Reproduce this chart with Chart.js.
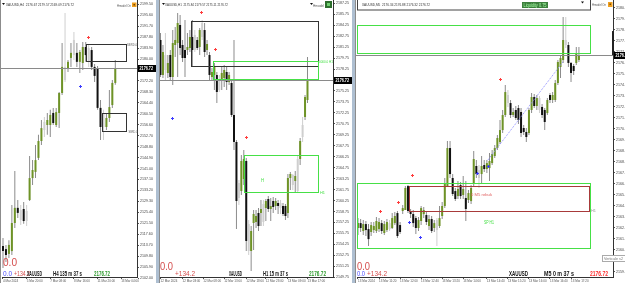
<!DOCTYPE html>
<html>
<head>
<meta charset="utf-8">
<script src="https://cdn.jsdelivr.net/npm/chart.js@4.4.1/dist/chart.umd.min.js"></script>
<style>
html, body { margin: 0; padding: 0; width: 625px; height: 283px; overflow: hidden; background: #aebfd1; }
.pane { position: absolute; top: 0; height: 283px; background: #fff; }
canvas { display: block; }
</style>
</head>
<body>
<div class="pane" style="left:0;width:156px"><canvas id="h4" width="156" height="283"></canvas></div>
<div class="pane" style="left:159px;width:193px"><canvas id="h1" width="193" height="283"></canvas></div>
<div class="pane" style="left:355px;width:270px"><canvas id="m5" width="270" height="283"></canvas></div>
<script>
// XAUUSD H4
const h4Open = [2113.4, 2112.3, 2110.6, 2111.6, 2121.6, 2127.0, 2126.2, 2126.6, 2122.3, 2129.8,
  2137.6, 2139.8, 2144.8, 2150.8, 2154.7, 2156.5, 2156.5, 2160.8, 2156.5, 2160.8,
  2167.9, 2177.2, 2176.8, 2180.4, 2181.4, 2182.2, 2179.0, 2178.6, 2184.3, 2183.9,
  2183.2, 2177.2, 2176.8, 2162.6, 2155.8, 2155.8, 2159.0, 2163.6, 2171.5];
const h4High = [2116.3, 2113.8, 2115.5, 2128.0, 2140.1, 2129.8, 2128.0, 2129.1, 2128.0, 2145.5,
  2144.0, 2149.4, 2153.0, 2158.3, 2159.4, 2160.8, 2161.9, 2162.6, 2162.6, 2168.3,
  2185.7, 2196.4, 2179.7, 2185.7, 2189.6, 2185.7, 2183.2, 2186.1, 2186.1, 2185.0,
  2184.3, 2178.2, 2177.5, 2165.4, 2161.9, 2160.8, 2169.0, 2172.5, 2179.7];
const h4Low = [2105.6, 2107.7, 2109.1, 2110.2, 2119.8, 2123.4, 2120.9, 2121.3, 2120.5, 2129.4,
  2135.1, 2137.6, 2144.0, 2149.4, 2152.2, 2153.0, 2152.2, 2156.5, 2155.8, 2155.4,
  2167.2, 2171.8, 2175.4, 2177.2, 2179.7, 2177.2, 2175.0, 2176.1, 2179.0, 2177.2,
  2176.1, 2171.8, 2161.9, 2151.2, 2151.2, 2154.7, 2157.6, 2162.6, 2170.8];
const h4Close = [2111.6, 2110.2, 2113.8, 2121.6, 2127.0, 2125.2, 2122.7, 2122.3, 2125.9, 2137.6,
  2140.5, 2144.0, 2150.8, 2155.4, 2157.6, 2158.3, 2160.1, 2157.2, 2161.1, 2167.9,
  2177.2, 2172.5, 2179.0, 2182.2, 2186.8, 2179.0, 2182.5, 2184.3, 2181.4, 2179.0,
  2177.2, 2174.0, 2162.6, 2155.8, 2160.8, 2159.0, 2162.9, 2171.5, 2176.72];
const h4Shade = [6, 8, 14, 21, 24, 29, 34];
const h4PriceTicks = [2199.50, 2195.60, 2191.70, 2187.80, 2183.90, 2180.00, 2176.10, 2172.20, 2168.30,
  2164.40, 2160.50, 2156.60, 2152.70, 2148.80, 2144.90, 2141.00, 2137.10, 2133.20, 2129.30,
  2125.40, 2121.50, 2117.60, 2113.70, 2109.80, 2105.90, 2102.00];
const h4TimeAt = [0, 8, 16, 24, 32, 40];
const h4TimeText = ['4 Mar 2024', '5 Mar 20:00', '7 Mar 08:00', '8 Mar 16:00', '11 Mar 20:00', '13 Mar 04:00'];

// XAUUSD H1
const h1Open = [2182.23, 2177.44, 2178.12, 2177.71, 2180.17, 2177.16, 2181.54, 2181.81, 2184.28, 2181.54,
  2180.86, 2180.86, 2181.13, 2182.64, 2180.86, 2182.23, 2181.27, 2182.64, 2183.59, 2180.86,
  2180.17, 2177.16, 2177.44, 2177.44, 2175.38, 2176.75, 2177.02, 2177.85, 2176.48, 2176.34,
  2171.96, 2168.27, 2160.60, 2161.56, 2163.20, 2165.67, 2153.35, 2153.35, 2157.18, 2157.32,
  2158.55, 2158.55, 2157.32, 2159.23, 2160.46, 2159.10, 2160.19, 2159.51, 2159.92, 2159.92,
  2159.51, 2159.51, 2158.55, 2163.34, 2162.38, 2162.93, 2161.56, 2165.94, 2168.95, 2171.69,
  2174.01];
const h1High = [2183.18, 2181.54, 2183.18, 2180.17, 2180.86, 2183.59, 2184.00, 2185.92, 2185.65, 2182.23,
  2184.96, 2183.18, 2183.59, 2184.96, 2183.59, 2182.64, 2183.87, 2184.96, 2184.55, 2182.23,
  2180.58, 2178.39, 2179.08, 2177.85, 2177.44, 2178.53, 2178.80, 2178.53, 2177.85, 2176.75,
  2182.23, 2168.54, 2163.07, 2166.49, 2167.17, 2166.08, 2157.59, 2156.77, 2158.96, 2158.96,
  2159.23, 2160.33, 2160.33, 2160.46, 2160.88, 2160.60, 2160.74, 2160.60, 2160.33, 2160.33,
  2159.92, 2159.78, 2163.89, 2164.16, 2163.89, 2164.30, 2166.49, 2168.81, 2171.69, 2174.70,
  2179.90];
const h1Low = [2177.16, 2177.02, 2176.75, 2177.02, 2176.75, 2176.07, 2179.90, 2177.16, 2180.17, 2179.21,
  2177.16, 2180.17, 2180.58, 2178.53, 2180.58, 2180.86, 2180.17, 2182.23, 2179.90, 2180.17,
  2176.75, 2176.75, 2175.38, 2173.60, 2175.11, 2175.38, 2175.79, 2175.38, 2176.07, 2171.69,
  2167.17, 2156.36, 2159.64, 2161.01, 2162.38, 2153.35, 2152.80, 2150.61, 2153.48, 2156.50,
  2156.09, 2156.77, 2156.77, 2157.45, 2158.69, 2157.45, 2158.55, 2158.96, 2158.41, 2158.41,
  2158.14, 2157.59, 2157.87, 2161.70, 2161.70, 2161.42, 2161.42, 2165.12, 2168.27, 2171.28,
  2173.60];
const h1Close = [2177.44, 2180.58, 2180.17, 2179.08, 2177.16, 2181.81, 2182.23, 2184.55, 2181.13, 2179.76,
  2179.76, 2181.27, 2182.64, 2180.86, 2182.91, 2181.13, 2183.59, 2184.55, 2180.58, 2181.68,
  2177.44, 2177.85, 2178.53, 2175.11, 2176.75, 2177.71, 2178.12, 2176.48, 2177.44, 2171.96,
  2168.27, 2160.19, 2162.65, 2165.67, 2165.94, 2154.72, 2157.04, 2156.09, 2158.41, 2158.14,
  2156.77, 2159.10, 2159.78, 2160.19, 2159.10, 2159.51, 2159.37, 2160.19, 2159.51, 2159.23,
  2158.41, 2158.14, 2163.34, 2163.89, 2163.75, 2163.61, 2165.94, 2168.40, 2170.59, 2174.42,
  2176.72];
const h1Shade = [2, 14, 17, 24, 32, 36, 42, 49, 54, 56, 58];
const h1PriceTicks = [2187.25, 2185.75, 2184.25, 2182.75, 2181.25, 2179.75, 2178.25, 2176.75, 2175.25,
  2173.75, 2172.25, 2170.75, 2169.25, 2167.75, 2166.25, 2164.75, 2163.25, 2161.75, 2160.25,
  2158.75, 2157.25, 2155.75, 2154.25, 2152.75, 2151.25, 2149.75];
const h1TimeAt = [0, 9, 17.5, 26, 35, 43, 52, 60];
const h1TimeText = ['12 Mar 2024', '12 Mar 03:00', '12 Mar 08:00', '12 Mar 13:00', '12 Mar 18:00',
  '12 Mar 23:00', '13 Mar 09:00', '13 Mar 17:00'];

// XAUUSD M5
const m5Open = [2162.57, 2162.97, 2162.32, 2162.89, 2162.48, 2162.24, 2162.40, 2162.32, 2162.48, 2162.97,
  2162.16, 2162.40, 2162.97, 2162.57, 2162.97, 2163.79, 2162.81, 2163.96, 2164.04, 2166.00,
  2163.96, 2163.71, 2163.38, 2162.57, 2163.14, 2163.71, 2163.63, 2162.73, 2163.30, 2162.57,
  2163.22, 2162.73, 2163.55, 2164.37, 2166.00, 2169.11, 2166.66, 2165.59, 2165.18, 2166.08,
  2165.27, 2165.02, 2164.86, 2164.77, 2166.25, 2167.64, 2167.31, 2166.98, 2167.72, 2167.39,
  2167.47, 2167.88, 2168.46, 2169.11, 2169.60, 2170.58, 2171.81, 2173.45, 2172.79, 2171.81,
  2172.22, 2172.38, 2172.06, 2170.75, 2170.42, 2170.34, 2172.22, 2173.28, 2172.55, 2173.20,
  2172.47, 2172.22, 2171.97, 2173.45, 2173.04, 2173.04, 2174.43, 2175.74, 2176.31, 2177.95,
  2177.54, 2176.07, 2175.82, 2176.07, 2176.31];
const m5High = [2163.38, 2163.30, 2163.22, 2163.14, 2162.89, 2163.06, 2163.06, 2163.46, 2163.38, 2163.22,
  2163.14, 2163.30, 2163.22, 2163.79, 2163.87, 2163.96, 2163.06, 2164.45, 2166.00, 2166.08,
  2164.12, 2164.04, 2163.55, 2163.46, 2164.37, 2164.28, 2163.87, 2163.63, 2163.55, 2163.22,
  2163.38, 2164.37, 2164.69, 2166.66, 2169.68, 2169.68, 2166.98, 2165.84, 2166.41, 2166.33,
  2166.82, 2166.41, 2165.67, 2166.08, 2168.87, 2168.13, 2167.72, 2168.46, 2168.13, 2168.13,
  2168.70, 2168.95, 2169.36, 2170.17, 2171.40, 2172.22, 2174.27, 2173.86, 2173.04, 2172.38,
  2172.55, 2172.63, 2172.38, 2170.99, 2170.75, 2172.38, 2173.61, 2173.53, 2173.45, 2173.37,
  2172.71, 2172.38, 2173.20, 2173.61, 2173.69, 2174.67, 2176.31, 2176.64, 2179.83, 2179.83,
  2177.78, 2176.15, 2175.98, 2177.37, 2177.37];
const m5Low = [2161.99, 2162.24, 2161.99, 2161.91, 2161.09, 2161.91, 2162.16, 2162.16, 2162.24, 2162.07,
  2161.99, 2162.24, 2162.32, 2162.48, 2162.81, 2161.75, 2162.07, 2163.71, 2164.04, 2163.79,
  2163.38, 2162.65, 2162.07, 2162.32, 2162.81, 2163.38, 2162.81, 2162.40, 2162.16, 2162.24,
  2161.09, 2162.57, 2163.30, 2164.20, 2165.92, 2166.66, 2165.18, 2164.77, 2164.94, 2164.94,
  2164.94, 2163.14, 2164.61, 2164.53, 2166.00, 2166.66, 2165.84, 2166.17, 2167.15, 2167.07,
  2166.41, 2167.72, 2168.29, 2168.95, 2169.44, 2170.34, 2171.65, 2172.47, 2171.57, 2171.65,
  2171.40, 2171.07, 2170.01, 2170.17, 2169.60, 2170.17, 2171.97, 2172.38, 2172.22, 2171.97,
  2171.57, 2170.58, 2171.81, 2172.79, 2172.79, 2172.87, 2174.27, 2174.84, 2176.07, 2177.29,
  2175.74, 2174.51, 2175.08, 2175.90, 2176.15];
const m5Close = [2162.97, 2162.57, 2162.89, 2162.40, 2161.66, 2162.81, 2162.73, 2163.14, 2163.06, 2162.32,
  2162.89, 2163.06, 2162.48, 2163.38, 2163.55, 2161.91, 2162.24, 2164.20, 2165.84, 2163.96,
  2163.71, 2162.97, 2162.57, 2163.22, 2164.20, 2164.04, 2163.06, 2163.30, 2162.32, 2162.97,
  2162.40, 2163.38, 2164.37, 2166.17, 2169.11, 2166.98, 2165.35, 2164.94, 2165.76, 2165.18,
  2165.76, 2164.12, 2165.43, 2165.84, 2168.21, 2166.98, 2166.66, 2167.64, 2167.39, 2167.88,
  2168.05, 2168.62, 2169.11, 2169.93, 2170.58, 2171.81, 2173.69, 2172.79, 2171.81, 2172.06,
  2171.57, 2171.40, 2170.34, 2170.42, 2170.01, 2172.22, 2173.28, 2172.55, 2173.20, 2172.22,
  2171.81, 2171.24, 2173.04, 2173.04, 2173.45, 2174.43, 2176.15, 2176.47, 2177.95, 2177.54,
  2176.07, 2175.25, 2175.41, 2176.88, 2176.72];
const m5Shade = [12, 30, 46, 57, 69, 79];
const m5PriceTicks = [2180.60, 2179.70, 2178.80, 2177.90, 2177.00, 2176.10, 2175.20, 2174.30, 2173.40,
  2172.50, 2171.60, 2170.70, 2169.80, 2168.90, 2168.00, 2167.10, 2166.20, 2165.30, 2164.40,
  2163.50, 2162.60, 2161.70, 2160.80, 2159.90, 2159.00];
const m5TimeAt = [0, 8, 16, 24, 32, 40, 49, 57, 65, 73, 81];
const m5TimeText = ['13 Mar 2024', '13 Mar 11:20', '13 Mar 12:00', '13 Mar 12:40', '13 Mar 13:20',
  '13 Mar 14:00', '13 Mar 14:40', '13 Mar 15:20', '13 Mar 16:00', '13 Mar 16:40', '13 Mar 17:20'];

const LAST = 2176.72;
const BULL = '#6e9326', BEAR = '#111111', SHADE = '#cfcfcf', WICK = '#8c8c8c';
const RED = '#d44c4c', BLUE = '#4a4aff', LIME = '#46e046';
const FONT = '"Liberation Sans", Arial, sans-serif';

function candleSets(open, high, low, close, shade) {
  const body = [], wick = [], bc = [], wc = [];
  for (let i = 0; i < open.length; i++) {
    const g = shade.includes(i);
    body.push({ x: i, y: [open[i], close[i]] });
    wick.push({ x: i, y: [low[i], high[i]] });
    bc.push(g ? SHADE : (close[i] >= open[i] ? BULL : BEAR));
    wc.push(g ? SHADE : WICK);
  }
  return [
    { data: body, backgroundColor: bc, barThickness: 2, minBarLength: 1, order: 1 },
    { data: wick, backgroundColor: wc, barThickness: 1, order: 2 }
  ];
}

// text squeezed to the width it has in the screenshot
function fitText(ctx, t) {
  const [s, x, y, w, size, color, bold] = t;
  ctx.save();
  ctx.font = (bold ? 'bold ' : '') + size + 'px ' + FONT;
  const m = ctx.measureText(s).width;
  ctx.translate(x, y);
  ctx.scale(w / m, 1);
  ctx.fillStyle = color;
  ctx.fillText(s, 0, 0);
  ctx.restore();
}

function overlay(o) {
  return {
    id: 'overlay',
    afterDatasetsDraw(chart) {
      const { ctx, chartArea: a } = chart;
      const x = chart.scales.x, y = chart.scales.y;
      ctx.save();
      ctx.lineWidth = 1;
      const ly = Math.round(y.getPixelForValue(LAST)) + 0.5;
      ctx.strokeStyle = '#8a8a8a';
      ctx.beginPath(); ctx.moveTo(0, ly); ctx.lineTo(a.right, ly); ctx.stroke();
      o.boxes.forEach(b => {
        const x1 = Math.round(x.getPixelForValue(b[0])) + 0.5;
        const x2 = Math.round(x.getPixelForValue(b[1])) + 0.5;
        const y1 = Math.round(y.getPixelForValue(b[2])) + 0.5;
        const y2 = Math.round(y.getPixelForValue(b[3])) + 0.5;
        ctx.strokeStyle = b[4];
        ctx.strokeRect(x1, y1, x2 - x1, y2 - y1);
      });
      (o.lines || []).forEach(l => {
        ctx.strokeStyle = l[4];
        ctx.setLineDash([1, 1]);
        ctx.beginPath();
        ctx.moveTo(x.getPixelForValue(l[0]), y.getPixelForValue(l[1]));
        ctx.lineTo(x.getPixelForValue(l[2]), y.getPixelForValue(l[3]));
        ctx.stroke();
        ctx.setLineDash([]);
      });
      o.marks.forEach(m => {
        const px = Math.round(x.getPixelForValue(m[0])) + 0.5;
        const py = Math.round(y.getPixelForValue(m[1])) + 0.5;
        ctx.strokeStyle = m[2];
        ctx.beginPath();
        ctx.moveTo(px - 1.5, py); ctx.lineTo(px + 1.5, py);
        ctx.moveTo(px, py - 1.5); ctx.lineTo(px, py + 1.5);
        ctx.stroke();
      });
      ctx.restore();
    },
    afterDraw(chart) {
      const { ctx, chartArea: a } = chart;
      const y = chart.scales.y;
      ctx.save();
      ctx.fillStyle = '#8c8c8c';
      ctx.fillRect(0, 0, 1, chart.height);
      if (o.decor) o.decor(ctx, chart);
      const ly = Math.round(y.getPixelForValue(LAST));
      ctx.fillStyle = '#000';
      ctx.fillRect(a.right + 1, ly - 3, 18, 7);
      fitText(ctx, ['2176.72', a.right + 2.5, ly + 2, 13.5, 5, '#fff', true]);
      o.texts.forEach(t => fitText(ctx, t));
      ctx.restore();
    }
  };
}

function makeChart(id, sets, o) {
  return new Chart(document.getElementById(id), {
    type: 'bar',
    data: { datasets: sets },
    options: {
      responsive: false,
      animation: false,
      layout: { padding: { left: o.padLeft, top: 0, right: 0, bottom: 0 } },
      datasets: { bar: { grouped: false, inflateAmount: 0, borderWidth: 0 } },
      plugins: { legend: { display: false }, tooltip: { enabled: false } },
      scales: {
        x: {
          type: 'linear', offset: false, bounds: 'data', min: o.xMin, max: o.xMax,
          afterFit: s => { s.height = 6; s.paddingLeft = 0; s.paddingRight = 0; },
          afterBuildTicks: s => { s.ticks = o.timeAt.map(v => ({ value: v })); },
          grid: { drawOnChartArea: false, offset: false, tickLength: 2, color: '#555' },
          border: { display: true, color: '#333' },
          ticks: {
            autoSkip: false, maxRotation: 0, align: 'start', padding: 0, color: '#555',
            font: { family: FONT, size: 3 },
            callback: (v, i) => o.timeText[i]
          }
        },
        y: {
          position: 'right', bounds: 'data', min: o.yMin, max: o.yMax,
          afterFit: s => { s.width = o.axisW; s.paddingTop = 0; s.paddingBottom = 0; },
          afterBuildTicks: s => { s.ticks = o.priceTicks.map(v => ({ value: v })); },
          grid: { drawOnChartArea: false, tickLength: 2, color: '#555' },
          border: { display: true, color: '#333' },
          ticks: {
            autoSkip: false, padding: 1, color: '#444',
            font: { family: FONT, size: 3.6 },
            callback: v => v.toFixed(2)
          }
        }
      }
    },
    plugins: [overlay(o)]
  });
}

function tri(ctx, x, y) {
  ctx.fillStyle = '#111';
  ctx.beginPath(); ctx.moveTo(x, y); ctx.lineTo(x + 3, y); ctx.lineTo(x + 1.5, y + 2); ctx.fill();
}

makeChart('h4', candleSets(h4Open, h4High, h4Low, h4Close, h4Shade), {
  padLeft: 2, axisW: 19, xMin: -0.338, xMax: 45.347, yMin: 2102.37, yMax: 2201.03,
  priceTicks: h4PriceTicks, timeAt: h4TimeAt, timeText: h4TimeText,
  boxes: [[28.09, 41.62, 2185.36, 2179.30, '#333'], [33.5, 41.62, 2160.78, 2154.37, '#333']],
  marks: [[28.76, 2187.85, '#ff3b3b'], [26.06, 2170.40, '#3b3bff']],
  decor(ctx) {
    tri(ctx, 2, 3);
    ctx.fillStyle = '#f0a020'; ctx.fillRect(132, 2.5, 4.5, 4.5);
    ctx.fillStyle = '#7a4a00'; ctx.fillRect(133.5, 4, 1.5, 1.5);
  },
  texts: [
    ['XAUUSD,H4  2176.67 2179.57 2169.09 2176.72', 6, 5.5, 68, 4, '#333'],
    ['Hmodel On', 117, 6.5, 14, 4, '#555'],
    ['SBRD.0', 127, 45.5, 10, 4, '#666'],
    ['SBRD.0', 128.5, 132.5, 9, 4, '#666'],
    ['0.0', 3, 265.5, 14, 10, RED],
    ['0.0', 3, 275.5, 9, 7, BLUE],
    ['+134.2', 14, 275.5, 16, 7, RED],
    ['XAUUSD', 27, 275.5, 15, 7, '#111', true],
    ['H4 135 m 37 s', 53, 275.5, 29, 7, '#111', true],
    ['2176.72', 94, 275.5, 16, 7, '#2b9a2b', true]
  ]
});

makeChart('h1', candleSets(h1Open, h1High, h1Low, h1Close, h1Shade), {
  padLeft: 0, axisW: 19, xMin: -0.612, xMax: 70.41, yMin: 2149.79, yMax: 2187.70,
  priceTicks: h1PriceTicks, timeAt: h1TimeAt, timeText: h1TimeText,
  boxes: [[12.45, 64.29, 2184.83, 2178.67, '#333'],
    [21.43, 64.29, 2179.35, 2176.93, LIME],
    [34.08, 64.29, 2166.49, 2161.42, LIME]],
  marks: [[16.5, 2186.06, '#ff3b3b'], [22.2, 2180.99, '#ff3b3b'], [4.7, 2171.55, '#3b3bff'], [34.9, 2168.95, '#ff3b3b']],
  decor(ctx) {
    tri(ctx, 3, 3);
    tri(ctx, 151, 3);
    ctx.fillStyle = '#2d6e2d'; ctx.fillRect(166, 1, 7, 7);
    ctx.fillStyle = '#6fcf6f'; ctx.fillRect(168, 3, 3, 3);
  },
  texts: [
    ['XAUUSD,H1  2175.84 2179.57 2175.11 2176.72', 6, 5.5, 63, 4, '#333'],
    ['Hmodel', 154, 6.5, 11, 4, '#555'],
    ['0000.0 H1', 160, 63, 14, 4, LIME],
    ['H', 102, 182, 3, 5, LIME],
    ['H1', 161, 194, 5, 4, LIME],
    ['0.0', 1, 269.5, 13, 10, RED],
    ['+134.2', 16, 276, 20, 7, RED],
    ['XAUUSD', 70, 276, 13, 7, '#111', true],
    ['H1 15 m 37 s', 104, 276, 25, 7, '#111', true],
    ['2176.72', 150, 276, 17, 7, '#2b9a2b', true]
  ]
});

makeChart('m5', candleSets(m5Open, m5High, m5Low, m5Close, m5Shade), {
  padLeft: 2, axisW: 12, xMin: -0.38, xMax: 96.96, yMin: 2158.56, yMax: 2181.22,
  priceTicks: m5PriceTicks, timeAt: m5TimeAt, timeText: m5TimeText,
  boxes: [[-0.38, 88.21, 2179.17, 2176.86, LIME],
    [-0.38, 88.21, 2166.22, 2160.95, LIME],
    [19.39, 87.83, 2166.00, 2163.96, '#a83a3a']],
  lines: [[49.4, 2168.13, 77.9, 2176.15, '#8d8dff']],
  marks: [[8.4, 2163.96, '#ff3b3b'], [15.2, 2164.69, '#ff3b3b'], [20.5, 2166.90, '#ff3b3b'], [54, 2174.76, '#ff3b3b'],
    [19.4, 2163.06, '#3b3bff'], [23.6, 2161.83, '#3b3bff'], [45.2, 2167.07, '#3b3bff'], [49.4, 2167.64, '#3b3bff']],
  decor(ctx, chart) {
    const a = chart.chartArea, y = chart.scales.y;
    ctx.fillStyle = '#fff'; ctx.fillRect(2, 0, 233, 10);
    ctx.strokeStyle = '#444'; ctx.lineWidth = 1; ctx.strokeRect(2.5, -0.5, 233, 10.5);
    ctx.fillStyle = '#3d7f3d'; ctx.fillRect(167, 2, 26, 6);
    fitText(ctx, ['Liquidity 0.75', 168.5, 6.6, 23, 4.5, '#a6ffa6']);
    tri(ctx, 226, 1.5);
    ctx.fillStyle = '#f0a020'; ctx.fillRect(253, 2, 4.5, 5);
    ctx.fillStyle = '#7a4a00'; ctx.fillRect(254.5, 3.5, 1.5, 1.5);
    const t = y.getPixelForValue(2178.68);
    ctx.fillStyle = '#222'; ctx.fillRect(a.right - 1, t, 2, y.getPixelForValue(LAST) - t);
    ctx.fillStyle = '#fff'; ctx.fillRect(247, 255.5, 24, 6);
    ctx.strokeStyle = '#aaa'; ctx.strokeRect(247.5, 255.5, 24, 6);
    fitText(ctx, ['Verticale s2', 249, 260, 19, 4, '#777']);
  },
  texts: [
    ['XAUUSD,M5  2176.34 2176.88 2176.32 2176.72', 7, 5.5, 68, 4, '#333'],
    ['Hmodel On', 237, 5.5, 14, 4, '#555'],
    ['SP H1', 129, 223.5, 10, 5, LIME],
    ['0 M5 rebuk', 116, 195.5, 21, 4, '#e06060'],
    ['H1', 236, 212, 5, 4, '#999'],
    ['0.0', 2, 269.5, 13, 10, RED],
    ['0.0', 2, 275.5, 8, 7, BLUE],
    ['+134.2', 12, 275.5, 20, 7, RED],
    ['XAUUSD', 154, 275.5, 19, 7, '#111', true],
    ['M5 0 m 37 s', 189, 275.5, 30, 7, '#111', true],
    ['2176.72', 235, 275.5, 18, 7, '#ff2a2a', true]
  ]
});
</script>
</body>
</html>
